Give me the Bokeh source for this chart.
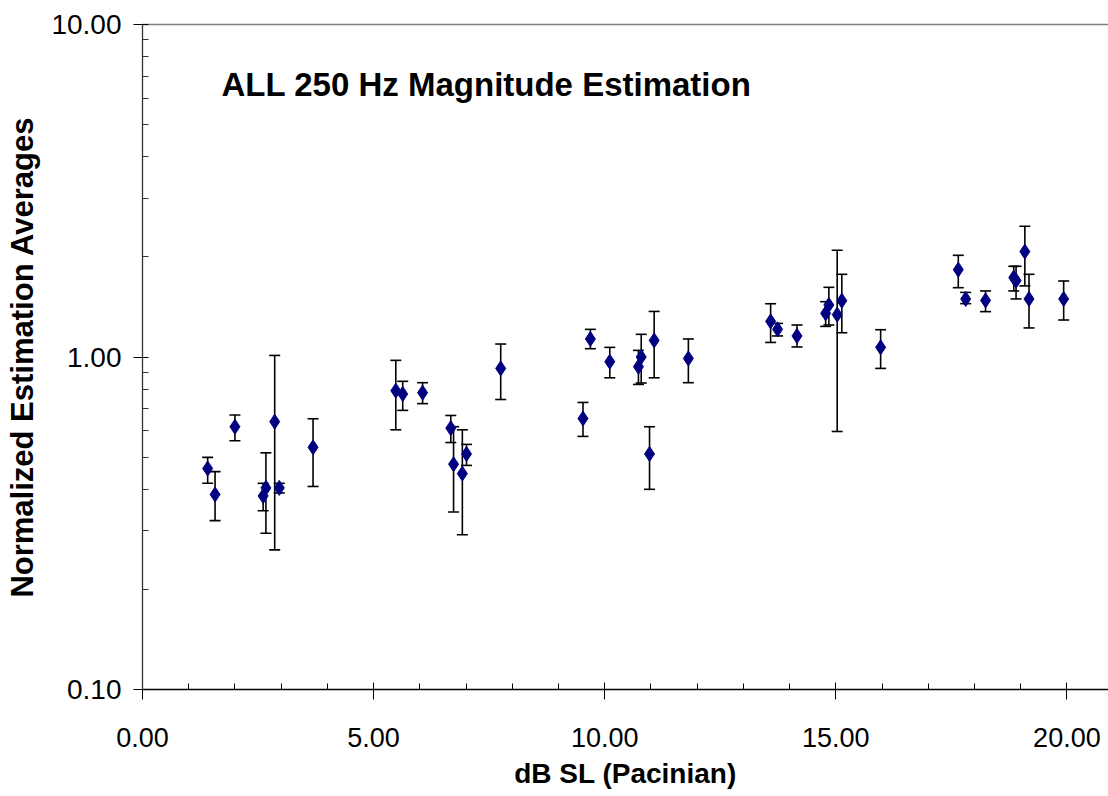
from bokeh.plotting import figure
from bokeh.models import (ColumnDataSource, Whisker, TeeHead, Range1d, SingleIntervalTicker,
                          FixedTicker, NumeralTickFormatter, LinearAxis, Label)
from bokeh.embed import file_html
from bokeh.resources import INLINE

# ---- data ----
db_sl = [1.41, 1.57, 2.00, 2.61, 2.67, 2.86, 2.96, 3.69,
         5.48, 5.63, 6.06, 6.67, 6.73, 6.92, 7.01, 7.75,
         9.53, 9.69, 10.11, 10.73, 10.79, 10.97, 11.07, 11.81,
         13.59, 13.74, 14.16, 14.78, 14.85, 15.03, 15.13, 15.97,
         17.65, 17.81, 18.24, 18.85, 18.90, 19.09, 19.18, 19.93]
avg = [0.462, 0.386, 0.617, 0.382, 0.404, 0.639, 0.404, 0.535,
       0.792, 0.774, 0.781, 0.611, 0.476, 0.446, 0.511, 0.924,
       0.653, 1.133, 0.968, 0.935, 1.000, 0.511, 1.122, 0.990,
       1.280, 1.211, 1.157, 1.353, 1.434, 1.341, 1.477, 1.069,
       1.831, 1.495, 1.480, 1.733, 1.697, 2.075, 1.495, 1.495]
err_upper = [0.499, 0.452, 0.669, 0.417, 0.515, 1.011, 0.417, 0.652,
             0.977, 0.845, 0.837, 0.667, 0.617, 0.604, 0.546, 1.094,
             0.730, 1.211, 1.069, 1.047, 1.170, 0.617, 1.371, 1.133,
             1.446, 1.262, 1.248, 1.467, 1.620, 2.094, 1.773, 1.208,
             2.022, 1.564, 1.580, 1.874, 1.874, 2.472, 1.773, 1.693]
err_lower = [0.417, 0.322, 0.560, 0.345, 0.295, 0.263, 0.390, 0.408,
             0.604, 0.691, 0.724, 0.553, 0.342, 0.292, 0.472, 0.745,
             0.577, 1.059, 0.866, 0.827, 0.835, 0.400, 0.866, 0.837,
             1.106, 1.157, 1.072, 1.236, 1.248, 0.597, 1.183, 0.924,
             1.616, 1.447, 1.369, 1.580, 1.495, 1.636, 1.223, 1.292]

x_ticks_major = [0, 5, 10, 15, 20]
y_ticks_major = [0.1, 1, 10]

title_text = "ALL 250 Hz Magnitude Estimation"
x_label = "dB SL (Pacinian)"
y_label = "Normalized Estimation Averages"

source = ColumnDataSource(dict(x=db_sl, y=avg, upper=err_upper, lower=err_lower))

p = figure(width=1108, height=796, y_axis_type="log",
           x_range=Range1d(0, 20.9), y_range=Range1d(0.1, 10),
           output_backend="svg", toolbar_location=None,
           min_border_left=142, min_border_right=0, min_border_top=24, min_border_bottom=107)

p.background_fill_color = "white"
p.border_fill_color = "white"
p.outline_line_color = None
p.xgrid.visible = False
p.ygrid.visible = False

# error bars
wh = Whisker(base="x", upper="upper", lower="lower", source=source, dimension="height",
             line_color="black", line_width=1.6,
             upper_head=TeeHead(size=11, line_color="black", line_width=1.6),
             lower_head=TeeHead(size=11, line_color="black", line_width=1.6))
p.add_layout(wh)

p.scatter("x", "y", source=source, marker="diamond", size=15,
          fill_color="#000080", line_color="#000080")

# x axis
xa = p.xaxis[0]
xa.ticker = SingleIntervalTicker(interval=5, num_minor_ticks=5)
xa.formatter = NumeralTickFormatter(format="0.00")
xa.axis_line_color = "black"
xa.axis_line_width = 1.3
xa.major_tick_in = 7
xa.major_tick_out = 10
xa.minor_tick_in = 6
xa.minor_tick_out = 0
xa.major_tick_line_color = "black"
xa.minor_tick_line_color = "black"
xa.major_label_text_font = "Liberation Sans"
xa.major_label_text_font_size = "27px"
xa.major_label_text_color = "black"
xa.major_label_standoff = 28
xa.axis_label = x_label
xa.axis_label_text_font = "Liberation Sans"
xa.axis_label_text_font_style = "bold"
xa.axis_label_text_font_size = "28px"
xa.axis_label_text_color = "black"
xa.axis_label_standoff = 8

# y axis
ya = p.yaxis[0]
minor = [m * d for d in [0.1, 1] for m in range(2, 10)]
ya.ticker = FixedTicker(ticks=y_ticks_major, minor_ticks=minor)
ya.formatter = NumeralTickFormatter(format="0.00")
ya.axis_line_color = "#333333"
ya.axis_line_width = 1.3
ya.major_tick_in = 6
ya.major_tick_out = 9
ya.minor_tick_in = 6
ya.minor_tick_out = 0
ya.major_tick_line_color = "black"
ya.minor_tick_line_color = "#333333"
ya.major_label_text_font = "Liberation Sans"
ya.major_label_text_font_size = "28px"
ya.major_label_text_color = "black"
ya.major_label_standoff = 12
ya.axis_label = y_label
ya.axis_label_text_font = "Liberation Sans"
ya.axis_label_text_font_style = "bold"
ya.axis_label_text_font_size = "31px"
ya.axis_label_text_color = "black"
ya.axis_label_standoff = 8

# top border line
top = LinearAxis(ticker=FixedTicker(ticks=[]), axis_line_color="#808080", axis_line_width=1.5,
                 major_tick_line_color=None, minor_tick_line_color=None)
p.add_layout(top, "above")

p.add_layout(Label(x=1.71, y=6.6, text=title_text, text_font="Liberation Sans",
                   text_font_style="bold", text_font_size="33px", text_color="black",
                   text_baseline="alphabetic", text_align="left"))

open("out.html", "w").write(file_html(p, INLINE))
